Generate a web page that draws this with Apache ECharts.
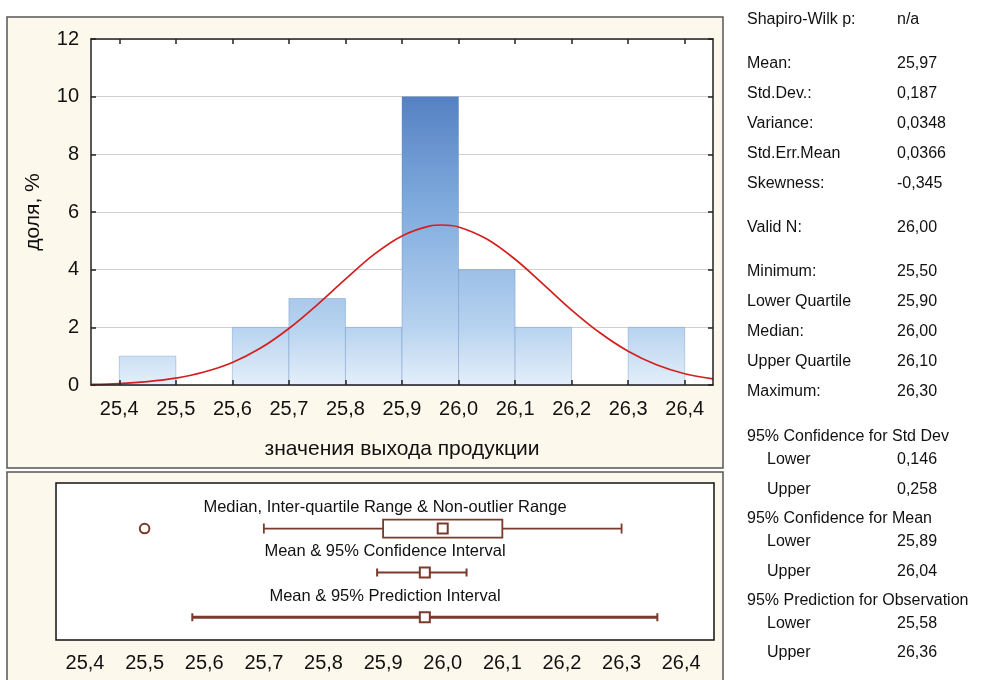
<!DOCTYPE html>
<html><head><meta charset="utf-8">
<script src="https://cdn.jsdelivr.net/npm/echarts@6/dist/echarts.min.js"></script>
<style>html,body{margin:0;padding:0;background:#fff}#c{width:983px;height:680px}</style>
</head><body><div id="c"></div>
<script>
// ---- data ----
const binLow  = [25.4, 25.5, 25.6, 25.7, 25.8, 25.9, 26.0, 26.1, 26.2, 26.3];
const binHigh = [25.5, 25.6, 25.7, 25.8, 25.9, 26.0, 26.1, 26.2, 26.3, 26.4];
const counts  = [1, 0, 2, 3, 2, 10, 4, 2, 0, 2];
const curveX = [25.35,25.40,25.45,25.50,25.55,25.60,25.65,25.70,25.75,25.80,25.85,25.90,25.95,25.97,26.00,26.05,26.10,26.15,26.20,26.25,26.30,26.35,26.40,26.45];
const curveY = [0.02,0.05,0.12,0.24,0.45,0.78,1.28,1.96,2.78,3.67,4.52,5.17,5.52,5.55,5.48,5.06,4.36,3.49,2.60,1.81,1.17,0.70,0.39,0.21];
const tickValues = [25.4,25.5,25.6,25.7,25.8,25.9,26.0,26.1,26.2,26.3,26.4];
const tickLabels = ['25,4','25,5','25,6','25,7','25,8','25,9','26,0','26,1','26,2','26,3','26,4'];
// box plot summary
const boxWhiskerLow = 25.7, boxQ1 = 25.9, boxMedian = 26.0, boxQ3 = 26.1, boxWhiskerHigh = 26.3;
const outliers = [25.5];
const meanValue = 25.97;
const ciInterval = [25.89, 26.04];
const piInterval = [25.58, 26.36];
const boxTitles = ['Median, Inter-quartile Range & Non-outlier Range', 'Mean & 95% Confidence Interval', 'Mean & 95% Prediction Interval'];
// statistics panel
const statLabels = ['Shapiro-Wilk p:','Mean:','Std.Dev.:','Variance:','Std.Err.Mean','Skewness:','Valid N:','Minimum:','Lower Quartile','Median:','Upper Quartile','Maximum:','95% Confidence for Std Dev','Lower','Upper','95% Confidence for Mean','Lower','Upper','95% Prediction for Observation','Lower','Upper'];
const statValues = ['n/a','25,97','0,187','0,0348','0,0366','-0,345','26,00','25,50','25,90','26,00','26,10','26,30','','0,146','0,258','','25,89','26,04','','25,58','26,36'];
const statIndent = [0,0,0,0,0,0,0,0,0,0,0,0,0,1,1,0,1,1,0,1,1];

// ---- layout ----
const statY = [20,64,94,124,154,184,228,272,302,332,362,392,437,460,490,519,542,572,601,624,653];
const FONT = '"Liberation Sans", Arial, sans-serif';
const BROWN = '#7a3a2c';

const chart = echarts.init(document.getElementById('c'), null, {renderer:'canvas'});
const labelFmt = v => { const i = tickValues.findIndex(t => Math.abs(t - v) < 1e-6); return i >= 0 ? tickLabels[i] : ''; };

const graphics = [
  {type:'rect', z:-100, shape:{x:7, y:17, width:716, height:451}, style:{fill:'#fdf8ec', stroke:'#555', lineWidth:1.5}},
  {type:'rect', z:-100, shape:{x:7, y:472, width:716, height:220}, style:{fill:'#fdf8ec', stroke:'#555', lineWidth:1.5}},
  {type:'rect', z:-90, shape:{x:91, y:39, width:622, height:346}, style:{fill:'#fff'}},
  {type:'rect', z:-90, shape:{x:56, y:483, width:658, height:157}, style:{fill:'#fff'}}
];
const boxTitleY = [507, 551, 596];
boxTitles.forEach((t, i) => graphics.push({type:'text', x:385, y:boxTitleY[i], z:10,
  style:{text:t, font:'16.5px ' + FONT, fill:'#111', textAlign:'center', textVerticalAlign:'middle'}}));
statLabels.forEach((t, i) => {
  graphics.push({type:'text', x: statIndent[i] ? 767 : 747, y: statY[i],
    style:{text:t, font:'16px ' + FONT, fill:'#111', textAlign:'left', textVerticalAlign:'middle'}});
  if (statValues[i]) graphics.push({type:'text', x:897, y:statY[i],
    style:{text:statValues[i], font:'16px ' + FONT, fill:'#111', textAlign:'left', textVerticalAlign:'middle'}});
});

const rowBox = 0.71, rowCI = 0.43, rowPI = 0.145;

chart.setOption({
  animation:false,
  textStyle:{fontFamily:FONT},
  graphic:{elements:graphics},
  grid:[
    {left:91, top:39, width:622, height:346, show:false},
    {left:56, top:483, width:658, height:157, show:true, backgroundColor:'transparent', borderColor:'#111', borderWidth:1.5}
  ],
  xAxis:[
    {type:'value', gridIndex:0, min:25.35, max:26.45, position:'bottom', z:5,
     axisLine:{show:true, onZero:false, lineStyle:{color:'#222', width:1.5}},
     axisTick:{show:true, inside:true, length:5, customValues:tickValues, lineStyle:{color:'#222', width:1.5}},
     axisLabel:{customValues:tickValues, formatter:labelFmt, fontSize:20, color:'#111', margin:14},
     splitLine:{show:false},
     name:'значения выхода продукции', nameLocation:'middle', nameGap:54, nameTextStyle:{fontSize:21, color:'#111'}},
    {type:'value', gridIndex:0, min:25.35, max:26.45, position:'top', z:5,
     axisLine:{show:true, onZero:false, lineStyle:{color:'#222', width:1.5}},
     axisTick:{show:true, inside:true, length:5, customValues:tickValues, lineStyle:{color:'#222', width:1.5}},
     axisLabel:{show:false}, splitLine:{show:false}},
    {type:'value', gridIndex:1, min:25.3514, max:26.455,
     axisLine:{show:false}, axisTick:{show:false},
     axisLabel:{customValues:tickValues, formatter:labelFmt, fontSize:20, color:'#111', margin:13},
     splitLine:{show:false}}
  ],
  yAxis:[
    {type:'value', gridIndex:0, min:0, max:12, interval:2, position:'left',
     axisLine:{show:true, onZero:false, lineStyle:{color:'#222', width:1.5}},
     axisTick:{show:true, inside:true, length:5, lineStyle:{color:'#222', width:1.5}},
     axisLabel:{fontSize:20, color:'#111', margin:12},
     splitLine:{show:true, lineStyle:{color:'#d0d0d0', width:1}},
     name:'доля, %', nameLocation:'middle', nameGap:47, nameTextStyle:{fontSize:21, color:'#111'}},
    {type:'value', gridIndex:0, min:0, max:12, interval:2, position:'right', z:5,
     axisLine:{show:true, onZero:false, lineStyle:{color:'#222', width:1.5}},
     axisTick:{show:true, inside:true, length:5, lineStyle:{color:'#222', width:1.5}},
     axisLabel:{show:false}, splitLine:{show:false}},
    {type:'value', gridIndex:1, min:0, max:1, show:false}
  ],
  series:[
    {type:'custom', xAxisIndex:0, yAxisIndex:0, z:2,
     data: binLow.map((b, i) => [b, binHigh[i], counts[i]]),
     renderItem:(params, api) => {
       const v = api.value(2);
       if (!v) return null;
       const p0 = api.coord([api.value(0), v]);
       const p1 = api.coord([api.value(1), 0]);
       const gTop = api.coord([api.value(0), 12])[1];
       const grad = new echarts.graphic.LinearGradient(0, gTop, 0, p1[1], [
         {offset:0, color:'#3d69b2'},
         {offset:0.165, color:'#5581c3'},
         {offset:0.5, color:'#82addf'},
         {offset:0.83, color:'#b6d2ef'},
         {offset:1, color:'#e4effa'}
       ], true);
       return {type:'rect', shape:{x:p0[0], y:p0[1], width:p1[0]-p0[0], height:p1[1]-p0[1]},
         style:{fill:grad, stroke:'rgba(90,130,190,0.35)', lineWidth:1}};
     }},
    {type:'line', xAxisIndex:0, yAxisIndex:0, z:3, smooth:0.35, showSymbol:false, symbol:'none',
     data: curveX.map((x, i) => [x, curveY[i]]),
     lineStyle:{color:'#d41f1f', width:1.7}},
    // box & whisker
    {type:'custom', xAxisIndex:2, yAxisIndex:2, z:3,
     data:[[boxWhiskerLow, boxQ1, boxMedian, boxQ3, boxWhiskerHigh]],
     renderItem:(params, api) => {
       const y = api.coord([boxQ1, rowBox])[1];
       const xs = [0,1,2,3,4].map(k => api.coord([api.value(k), rowBox])[0]);
       const st = {stroke:BROWN, lineWidth:1.8, fill:null};
       return {type:'group', children:[
         {type:'line', shape:{x1:xs[0], y1:y, x2:xs[1], y2:y}, style:st},
         {type:'line', shape:{x1:xs[3], y1:y, x2:xs[4], y2:y}, style:st},
         {type:'line', shape:{x1:xs[0], y1:y-5, x2:xs[0], y2:y+5}, style:st},
         {type:'line', shape:{x1:xs[4], y1:y-5, x2:xs[4], y2:y+5}, style:st},
         {type:'rect', shape:{x:xs[1], y:y-9, width:xs[3]-xs[1], height:18}, style:{stroke:BROWN, lineWidth:1.8, fill:'#fff'}},
         {type:'rect', shape:{x:xs[2]-5, y:y-5, width:10, height:10}, style:{stroke:BROWN, lineWidth:2, fill:'#fff'}}
       ]};
     }},
    {type:'custom', xAxisIndex:2, yAxisIndex:2, z:3,
     data: outliers.map(o => [o]),
     renderItem:(params, api) => {
       const p = api.coord([api.value(0), rowBox]);
       return {type:'circle', shape:{cx:p[0], cy:p[1], r:4.8}, style:{stroke:BROWN, lineWidth:2, fill:'#fff'}};
     }},
    // CI and PI
    {type:'custom', xAxisIndex:2, yAxisIndex:2, z:3,
     data:[[ciInterval[0], meanValue, ciInterval[1], 0], [piInterval[0], meanValue, piInterval[1], 1]],
     renderItem:(params, api) => {
       const isPI = api.value(3) === 1;
       const row = isPI ? rowPI : rowCI;
       const y = api.coord([meanValue, row])[1];
       const a = api.coord([api.value(0), row])[0];
       const m = api.coord([api.value(1), row])[0];
       const b = api.coord([api.value(2), row])[0];
       const lw = isPI ? 3 : 2;
       const st = {stroke:BROWN, lineWidth:lw, fill:null};
       const cap = {stroke:BROWN, lineWidth:2, fill:null};
       return {type:'group', children:[
         {type:'line', shape:{x1:a, y1:y, x2:b, y2:y}, style:st},
         {type:'line', shape:{x1:a, y1:y-4, x2:a, y2:y+4}, style:cap},
         {type:'line', shape:{x1:b, y1:y-4, x2:b, y2:y+4}, style:cap},
         {type:'rect', shape:{x:m-5, y:y-5, width:10, height:10}, style:{stroke:BROWN, lineWidth:2, fill:'#fff'}}
       ]};
     }}
  ]
});
</script></body></html>
